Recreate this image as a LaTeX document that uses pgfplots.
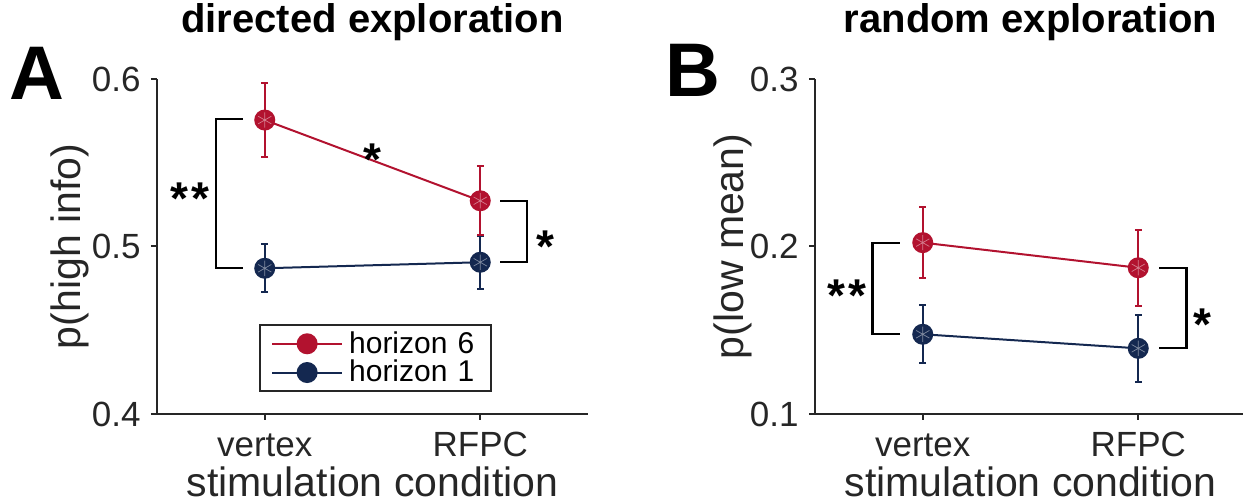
\documentclass[border=0pt]{standalone}
\usepackage{fontspec}
\setmainfont{Liberation Sans}
\usepackage{pgfplots}
\usepackage{pgfplotstable}
\pgfplotsset{compat=1.18}
\definecolor{hred}{RGB}{178,18,47}
\definecolor{hblue}{RGB}{20,40,80}
\definecolor{axgray}{RGB}{38,38,38}

% directed exploration: p(high info)
\pgfplotstableread{
x y e
1 0.5755 0.022
2 0.5273 0.0205
}\dirHsix
\pgfplotstableread{
x y e
1 0.4870 0.0143
2 0.4906 0.0157
}\dirHone
% random exploration: p(low mean)
\pgfplotstableread{
x y e
1 0.2023 0.0212
2 0.1873 0.0227
}\ranHsix
\pgfplotstableread{
x y e
1 0.1476 0.0173
2 0.1392 0.0198
}\ranHone

\tikzset{sig/.style={font=\bfseries\fontsize{23}{26}\selectfont, anchor=base, yshift=-13pt}}

\pgfplotsset{
  panel/.style={
    scale only axis, width=215.5pt, height=167.5pt,
    xmin=0.5, xmax=2.5,
    axis x line*=bottom, axis y line*=left,
    axis line style={axgray, line width=1pt},
    tick align=outside,
    major tick length=3pt,
    tick style={axgray, line width=1pt},
    xtick={1,2}, xticklabels={vertex,RFPC},
    tick label style={font=\fontsize{17.5}{20}\selectfont, text=axgray},
    yticklabel style={inner sep=0pt, xshift=-5pt},
    xticklabel style={anchor=base, inner sep=0pt, yshift=-18.5pt},
    xlabel={stimulation condition},
    label style={font=\fontsize{20.5}{24}\selectfont, text=axgray},
    xlabel style={at={(axis description cs:0.5,-0.202)}, anchor=center},
    title style={font=\bfseries\fontsize{20}{24}\selectfont, at={(axis description cs:0.5,1)}, anchor=base, yshift=17pt},
    clip=false,
    reverse legend,
    legend image code/.code={\draw[##1, mark repeat=2, mark phase=2] plot coordinates {(0pt,0pt) (17.5pt,0pt) (35pt,0pt)};},
  },
  series/.style={#1, line width=1pt, mark=*, mark size=4.75pt, mark options={solid, fill=#1, draw=#1},
    error bars/.cd, y dir=both, y explicit,
    error mark=-,
    error bar style={line width=1pt, #1},
    error mark options={rotate=90, line width=1pt, mark size=1.7pt, #1}},
  star/.style={forget plot, only marks, mark=asterisk, mark size=3.8pt, mark options={draw=#1!55!white, line width=0.35pt}},
}

\begin{document}
\begin{tikzpicture}
% ---------------- Panel A ----------------
\begin{axis}[panel, at={(78.5pt,44.5pt)}, anchor=south west,
  ymin=0.4, ymax=0.6, ytick={0.4,0.5,0.6}, yticklabels={0.4,0.5,0.6},
  ylabel={p(high info)},
  ylabel style={at={(axis description cs:-0.202,0.5)}, anchor=center},
  title={directed exploration},
  legend style={at={(0.237,0.066)}, anchor=south west, draw=axgray, line width=1pt,
    font=\fontsize{15}{17}\selectfont, inner xsep=5.5pt, inner ysep=2pt,
    nodes={inner sep=1pt}, row sep=0pt, cells={anchor=west},
    /tikz/every odd column/.append style={column sep=2pt},
    /tikz/every even column/.append style={text width=64.5pt}},
]
\addplot[series=hblue] table[x=x, y=y, y error=e] {\dirHone};
\addlegendentry{horizon 1}
\addplot[series=hred] table[x=x, y=y, y error=e] {\dirHsix};
\addlegendentry{horizon 6}
\addplot[star=hblue] table[x=x, y=y] {\dirHone};
\addplot[star=hred] table[x=x, y=y] {\dirHsix};
% significance brackets
\draw[black, line width=1.2pt] (axis cs:0.898,0.5761) -- (axis cs:0.773,0.5761) -- (axis cs:0.773,0.4872) -- (axis cs:0.898,0.4872);
\draw[black, line width=1.2pt] (axis cs:2.093,0.5272) -- (axis cs:2.218,0.5272) -- (axis cs:2.218,0.4907) -- (axis cs:2.093,0.4907);
\node[sig] at (axis cs:0.653,0.5349) {*\kern1.5pt*};
\node[sig] at (axis cs:1.499,0.5580) {*};
\node[sig] at (axis cs:2.301,0.5057) {*};
\end{axis}

% ---------------- Panel B ----------------
\begin{axis}[panel, at={(407.5pt,44.5pt)}, anchor=south west,
  ymin=0.1, ymax=0.3, ytick={0.1,0.2,0.3}, yticklabels={0.1,0.2,0.3},
  ylabel={p(low mean)},
  ylabel style={at={(axis description cs:-0.19,0.5)}, anchor=center},
  title={random exploration},
]
\addplot[series=hblue] table[x=x, y=y, y error=e] {\ranHone};
\addplot[series=hred] table[x=x, y=y, y error=e] {\ranHsix};
\addplot[star=hblue] table[x=x, y=y] {\ranHone};
\addplot[star=hred] table[x=x, y=y] {\ranHsix};
\draw[black, line width=1.2pt] (axis cs:0.893,0.2021) -- (axis cs:0.767,0.2021) -- (axis cs:0.767,0.1478) -- (axis cs:0.893,0.1478);
\draw[black, line width=1.2pt] (axis cs:2.098,0.1872) -- (axis cs:2.223,0.1872) -- (axis cs:2.223,0.1394) -- (axis cs:2.098,0.1394);
\node[sig] at (axis cs:0.649,0.177) {*\kern1.5pt*};
\node[sig] at (axis cs:2.30,0.1597) {*};
\end{axis}

% panel letters
\node[font=\bfseries\fontsize{38}{40}\selectfont, anchor=center] at (18.5pt,214.75pt) {A};
\node[font=\bfseries\fontsize{38}{40}\selectfont, anchor=center] at (346.5pt,216.5pt) {B};

\pgfresetboundingbox
\path[use as bounding box] (0,0) rectangle (621.5pt,251.5pt);
\end{tikzpicture}
\end{document}
